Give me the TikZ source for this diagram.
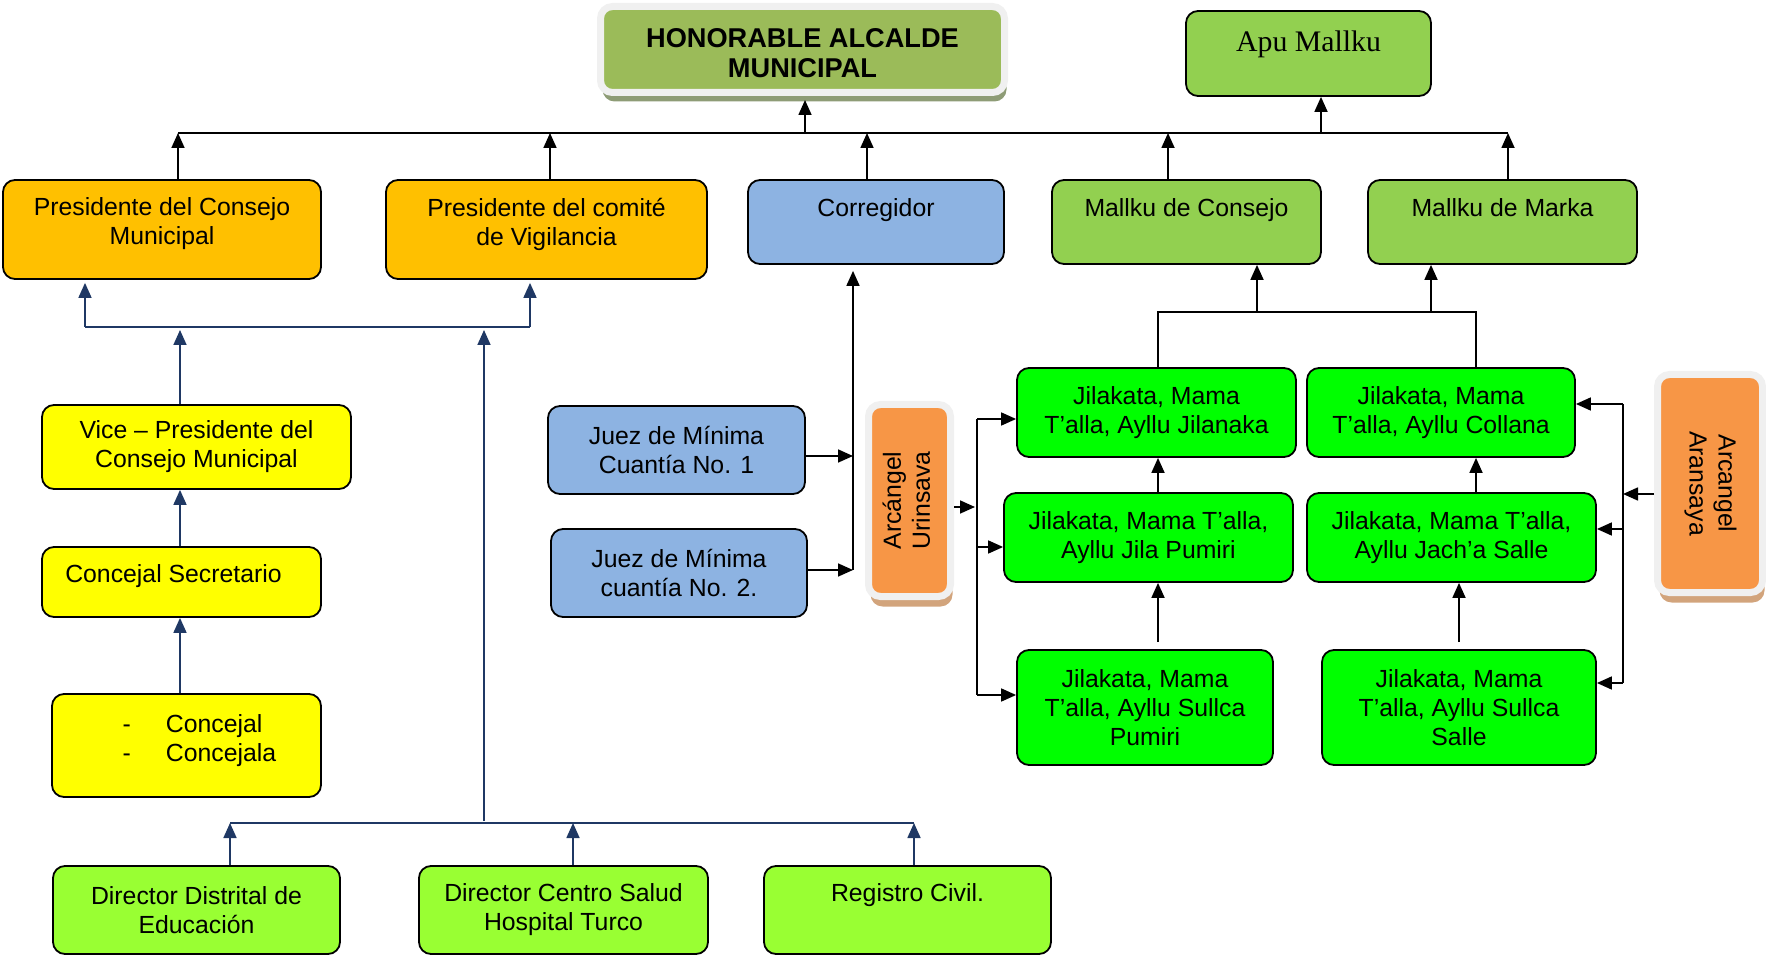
\documentclass[tikz,border=0pt]{standalone}
\usepackage{fontspec}
\setmainfont{Liberation Sans}
\newfontfamily\serifa{Liberation Serif}
\usetikzlibrary{positioning,arrows.meta,shadows}

\definecolor{oliva}{HTML}{9BBB59}
\definecolor{ambar}{HTML}{FFC000}
\definecolor{celeste}{HTML}{8DB3E2}
\definecolor{pasto}{HTML}{92D050}
\definecolor{amarillo}{HTML}{FFFF00}
\definecolor{lima}{HTML}{99FF33}
\definecolor{verde}{HTML}{00FF00}
\definecolor{naranja}{HTML}{F79646}
\definecolor{marino}{HTML}{1F3864}
\definecolor{blanco}{HTML}{F0F0F0}
\definecolor{sombraverde}{HTML}{8E9C76}
\definecolor{sombranaranja}{HTML}{D2A47C}

\begin{document}
\begin{tikzpicture}[x=0.5pt,y=-0.5pt,
  caja/.style={draw=black,line width=0.9pt,rounded corners=6pt,align=center,inner sep=2pt,font=\fontsize{12.4}{14.5}\selectfont},
  marco/.style={draw=blanco,line width=3.5pt,rounded corners=6pt,align=center,inner sep=0pt,font=\fontsize{12.4}{14.5}\selectfont},
  linea/.style={line width=0.85pt},
  flecha/.style={linea,-{Triangle[length=7.5pt,width=6.5pt]}},
  azul/.style={draw=marino,line width=0.85pt},
  flechazul/.style={azul,-{Triangle[length=7.5pt,width=6.5pt]}}]

\useasboundingbox (0,0) rectangle (1766,956);

%cabeza
\node[marco,fill=oliva,minimum width=202pt,minimum height=43pt,text height=28.5pt,text depth=0pt,
  font=\fontsize{13.6}{15.2}\selectfont\bfseries,
  drop shadow={shadow xshift=1pt,shadow yshift=-4.5pt,fill=sombraverde,opacity=1}] (alcalde) at (802.5,49.5) {HONORABLE ALCALDE\\MUNICIPAL};
\node[caja,fill=pasto,minimum width=122.5pt,minimum height=42.5pt,text depth=12pt,
  font=\serifa\fontsize{14.9}{17}\selectfont] (apu) at (1308.5,53.5) {Apu Mallku};

%segunda fila
\node[caja,fill=ambar,minimum width=159pt,minimum height=49.5pt,text depth=8.1pt] (pcm) at (162,229.5) {Presidente del Consejo\\Municipal};
\node[caja,fill=ambar,minimum width=160.5pt,minimum height=49.5pt,text depth=8.1pt] (pcv) at (546.5,229.5) {Presidente del comité\\de Vigilancia};
\node[caja,fill=celeste,minimum width=128pt,minimum height=42pt,text depth=14pt] (corregidor) at (876,222) {Corregidor};
\node[caja,fill=pasto,minimum width=134.5pt,minimum height=42pt,text depth=14pt] (mconsejo) at (1186.5,222) {Mallku de Consejo};
\node[caja,fill=pasto,minimum width=134.5pt,minimum height=42pt,text depth=14pt] (mmarka) at (1502.5,222) {Mallku de Marka};

%concejo
\node[caja,fill=amarillo,minimum width=154.5pt,minimum height=42pt] (vice) at (196.5,447) {Vice – Presidente del\\Consejo Municipal};
\node[caja,fill=amarillo,minimum width=139.5pt,minimum height=35pt,text depth=8pt] (secretario) at (181.5,582) {Concejal Secretario\hspace*{8pt}};
\node[caja,fill=amarillo,minimum width=134.5pt,minimum height=51.5pt,text depth=7.1pt,align=left] (concejal) at (186.5,745.5)
  {\hspace*{13pt}-\hspace{17.5pt}Concejal\\\hspace*{13pt}-\hspace{17.5pt}Concejala};

%jueces
\node[caja,fill=celeste,minimum width=128.5pt,minimum height=44pt] (juez1) at (676.5,450) {Juez de Mínima\\Cuantía No. 1};
\node[caja,fill=celeste,minimum width=128pt,minimum height=44pt] (juez2) at (679,573) {Juez de Mínima\\cuantía No. 2.};

%arcangeles
\node[marco,fill=naranja,minimum width=41pt,minimum height=96pt,
  drop shadow={shadow xshift=1pt,shadow yshift=-5pt,fill=sombranaranja,opacity=1}] (urinsava) at (909.5,500.5)
  {\rotatebox{90}{\begin{tabular}{@{}c@{}}Arcángel\\Urinsava\end{tabular}}};
\node[marco,fill=naranja,minimum width=52.5pt,minimum height=109pt,
  drop shadow={shadow xshift=1pt,shadow yshift=-5pt,fill=sombranaranja,opacity=1}] (aransaya) at (1710,483.5)
  {\rotatebox{-90}{\begin{tabular}{@{}c@{}}Arcangel\\Aransaya\end{tabular}}};

%ayllus
\node[caja,fill=verde,minimum width=139.5pt,minimum height=44.5pt] (jilanaka) at (1156.5,412.5) {Jilakata, Mama\\T’alla, Ayllu Jilanaka};
\node[caja,fill=verde,minimum width=134pt,minimum height=44.5pt] (collana) at (1441,412.5) {Jilakata, Mama\\T’alla, Ayllu Collana};
\node[caja,fill=verde,minimum width=144.5pt,minimum height=44.5pt] (jilapumiri) at (1148.5,537.5) {Jilakata, Mama T’alla,\\Ayllu Jila Pumiri};
\node[caja,fill=verde,minimum width=144.5pt,minimum height=44.5pt] (jachasalle) at (1451.5,537.5) {Jilakata, Mama T’alla,\\Ayllu Jach’a Salle};
\node[caja,fill=verde,minimum width=128pt,minimum height=57.5pt] (sullcapumiri) at (1145,707.5) {Jilakata, Mama\\T’alla, Ayllu Sullca\\Pumiri};
\node[caja,fill=verde,minimum width=137pt,minimum height=57.5pt] (sullcasalle) at (1459,707.5) {Jilakata, Mama\\T’alla, Ayllu Sullca\\Salle};

%direcciones
\node[caja,fill=lima,minimum width=143.5pt,minimum height=44pt] (educacion) at (196.5,910) {Director Distrital de\\Educación};
\node[caja,fill=lima,minimum width=144.5pt,minimum height=44pt] (salud) at (563.5,910) {Director Centro Salud\\Hospital Turco};
\node[caja,fill=lima,minimum width=143.5pt,minimum height=44pt,text depth=17pt] (registro) at (907.5,910) {Registro Civil.};

%bus superior
\coordinate (b1) at (178,133);
\coordinate (b2) at (550,133);
\coordinate (b3) at (867,133);
\coordinate (b4) at (1168,133);
\coordinate (b5) at (1508,133);
\coordinate (ba) at (805,133);
\coordinate (bm) at (1321,133);
\draw[linea] (b1) -- (b5);
\draw[flecha] (b1 |- pcm.north) -- (b1);
\draw[flecha] (b2 |- pcv.north) -- (b2);
\draw[flecha] (b3 |- corregidor.north) -- (b3);
\draw[flecha] (b4 |- mconsejo.north) -- (b4);
\draw[flecha] (b5 |- mmarka.north) -- (b5);
\draw[flecha,shorten >=2pt] (ba) -- (ba |- alcalde.south);
\draw[flecha] (bm) -- (bm |- apu.south);

%bus azul
\coordinate (c1) at (85,327);
\coordinate (c2) at (530,327);
\coordinate (c3) at (180,327);
\coordinate (c4) at (484,327);
\draw[azul] (c1) -- (c2);
\draw[flechazul,shorten >=1.5pt] (c1) -- (c1 |- pcm.south);
\draw[flechazul,shorten >=1.5pt] (c2) -- (c2 |- pcv.south);
\draw[flechazul,shorten >=1.5pt] (c3 |- vice.north) -- (c3);
\draw[flechazul] (c3 |- secretario.north) -- (c3 |- vice.south);
\draw[flechazul] (c3 |- concejal.north) -- (c3 |- secretario.south);

%bus inferior
\coordinate (d1) at (230,823);
\coordinate (d2) at (573,823);
\coordinate (d3) at (914,823);
\coordinate (d4) at (484,821);
\draw[azul] (d1) -- (d3);
\draw[flechazul,shorten >=1.5pt] (d4) -- (c4);
\draw[flechazul] (d1 |- educacion.north) -- (d1);
\draw[flechazul] (d2 |- salud.north) -- (d2);
\draw[flechazul] (d3 |- registro.north) -- (d3);

%jueces al corregidor
\coordinate (j1) at (853,456);
\coordinate (j2) at (853,570);
\draw[flecha] (j1 -| juez1.east) -- (j1);
\draw[flecha] (j2 -| juez2.east) -- (j2);
\draw[flecha,shorten >=3pt] (j2) -- (j2 |- corregidor.south);

%urinsava
\coordinate (u0) at (975,507);
\coordinate (u1) at (977,419);
\coordinate (u2) at (977,547);
\coordinate (u3) at (977,695);
\draw[flecha] (u0 -| urinsava.east) -- (u0);
\draw[linea] (u1) -- (u3);
\draw[flecha] (u1) -- (u1 -| jilanaka.west);
\draw[flecha] (u2) -- (u2 -| jilapumiri.west);
\draw[flecha] (u3) -- (u3 -| sullcapumiri.west);

%aransaya
\coordinate (r0) at (1623,494);
\coordinate (r1) at (1623,404);
\coordinate (r2) at (1623,529);
\coordinate (r3) at (1623,683);
\draw[flecha] (r0 -| aransaya.west) -- (r0);
\draw[linea] (r1) -- (r3);
\draw[flecha] (r1) -- (r1 -| collana.east);
\draw[flecha] (r2) -- (r2 -| jachasalle.east);
\draw[flecha] (r3) -- (r3 -| sullcasalle.east);

%ayllus hacia arriba
\coordinate (k1) at (1158,0);
\coordinate (k2) at (1476,0);
\coordinate (k3) at (1459,0);
\draw[flecha] (k1 |- jilapumiri.north) -- (k1 |- jilanaka.south);
\draw[flecha,shorten <=3.5pt] (k1 |- sullcapumiri.north) -- (k1 |- jilapumiri.south);
\draw[flecha] (k2 |- jachasalle.north) -- (k2 |- collana.south);
\draw[flecha,shorten <=3.5pt] (k3 |- sullcasalle.north) -- (k3 |- jachasalle.south);

%mallkus
\coordinate (t1) at (1158,312);
\coordinate (t2) at (1476,312);
\coordinate (t3) at (1257,312);
\coordinate (t4) at (1431,312);
\draw[linea] (t1 |- jilanaka.north) -- (t1) -- (t2) -- (t2 |- collana.north);
\draw[flecha] (t3) -- (t3 |- mconsejo.south);
\draw[flecha] (t4) -- (t4 |- mmarka.south);

\end{tikzpicture}
\end{document}
